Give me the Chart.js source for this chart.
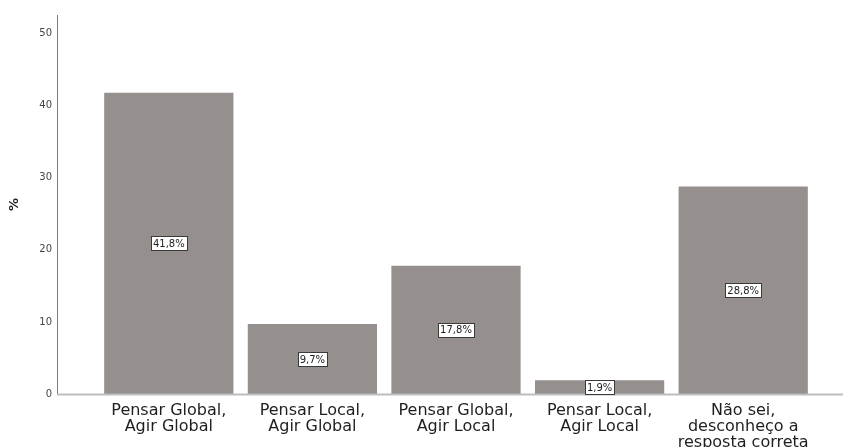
<!DOCTYPE html>
<html>
<head>
<meta charset="utf-8">
<script src="https://cdn.jsdelivr.net/npm/chart.js@4.4.0/dist/chart.umd.min.js"></script>
<style>
html,body{margin:0;padding:0;background:#fff;}
#wrap{width:843px;height:447px;position:relative;}
</style>
</head>
<body>
<div id="wrap"><canvas id="c" width="843" height="447"></canvas></div>
<script>
const categories = [
  ["Pensar Global,", "Agir Global"],
  ["Pensar Local,", "Agir Global"],
  ["Pensar Global,", "Agir Local"],
  ["Pensar Local,", "Agir Local"],
  ["Não sei,", "desconheço a", "resposta correta"]
];
const values = [41.8, 9.7, 17.8, 1.9, 28.8];
const valueLabels = ["41,8%", "9,7%", "17,8%", "1,9%", "28,8%"];
const yTicks = [0, 10, 20, 30, 40, 50];
const yMax = 52.6;

const FONT = "'DejaVu Sans', sans-serif";

const axisLines = {
  id: 'axisLines',
  afterDatasetsDraw(chart) {
    const ctx = chart.ctx;
    const y = chart.scales.y;
    const x0 = chart.chartArea.left - 40;
    const yBottom = y.getPixelForValue(0);
    const yTop = y.getPixelForValue(yMax);
    ctx.save();
    ctx.strokeStyle = '#7a7a7a';
    ctx.lineWidth = 1;
    ctx.beginPath();
    ctx.moveTo(x0 + 0.5, yTop);
    ctx.lineTo(x0 + 0.5, yBottom);
    ctx.stroke();
    ctx.strokeStyle = '#bdbdbd';
    ctx.lineWidth = 2;
    ctx.beginPath();
    ctx.moveTo(x0, yBottom + 0.5);
    ctx.lineTo(chart.width, yBottom + 0.5);
    ctx.stroke();
    ctx.restore();
  }
};

const valueBoxes = {
  id: 'valueBoxes',
  afterDatasetsDraw(chart) {
    const ctx = chart.ctx;
    const meta = chart.getDatasetMeta(0);
    ctx.save();
    ctx.font = "10px " + FONT;
    ctx.textAlign = 'center';
    ctx.textBaseline = 'middle';
    meta.data.forEach((bar, i) => {
      const cx = bar.x;
      const cy = (bar.y + bar.base) / 2;
      const txt = valueLabels[i];
      const w = Math.round(ctx.measureText(txt).width + 4);
      const h = 14;
      const bx = Math.round(cx - w / 2) + 0.5;
      const by = Math.round(cy - h / 2) + 0.5;
      ctx.fillStyle = '#ffffff';
      ctx.fillRect(bx, by, w, h);
      ctx.strokeStyle = '#3a3a3a';
      ctx.lineWidth = 1;
      ctx.strokeRect(bx, by, w, h);
      ctx.fillStyle = '#222';
      ctx.fillText(txt, cx, cy + 1);
    });
    ctx.restore();
  }
};

new Chart(document.getElementById('c'), {
  type: 'bar',
  data: {
    labels: categories,
    datasets: [{
      data: values,
      backgroundColor: '#958f8e',
      borderWidth: 0,
      barPercentage: 0.9,
      categoryPercentage: 1.0
    }]
  },
  options: {
    responsive: false,
    animation: false,
    devicePixelRatio: 1,
    layout: { padding: { top: 15, right: 28, left: 0, bottom: 0 } },
    plugins: { legend: { display: false }, tooltip: { enabled: false } },
    scales: {
      x: {
        grid: { display: false, drawTicks: false },
        border: { display: false },
        ticks: {
          color: '#1e1e1e',
          padding: 9,
          maxRotation: 0,
          autoSkip: false,
          font: { family: FONT, size: 16, lineHeight: 1.0 }
        },
        afterFit(scale) { scale.height = 53; }
      },
      y: {
        min: 0,
        max: yMax,
        grid: { display: false, drawTicks: false },
        border: { display: false },
        afterBuildTicks(scale) {
          scale.ticks = yTicks.map(v => ({ value: v }));
        },
        ticks: {
          color: '#444',
          padding: 45,
          font: { family: FONT, size: 10 }
        },
        title: {
          display: true,
          text: '%',
          color: '#222',
          padding: { top: 7, bottom: 0 },
          font: { family: FONT, size: 13, weight: 'bold' }
        },
        afterFit(scale) {
          scale.width = 97;
          scale.paddingTop = 0;
          scale.paddingBottom = 0;
        }
      }
    }
  },
  plugins: [axisLines, valueBoxes]
});
</script>
</body>
</html>
